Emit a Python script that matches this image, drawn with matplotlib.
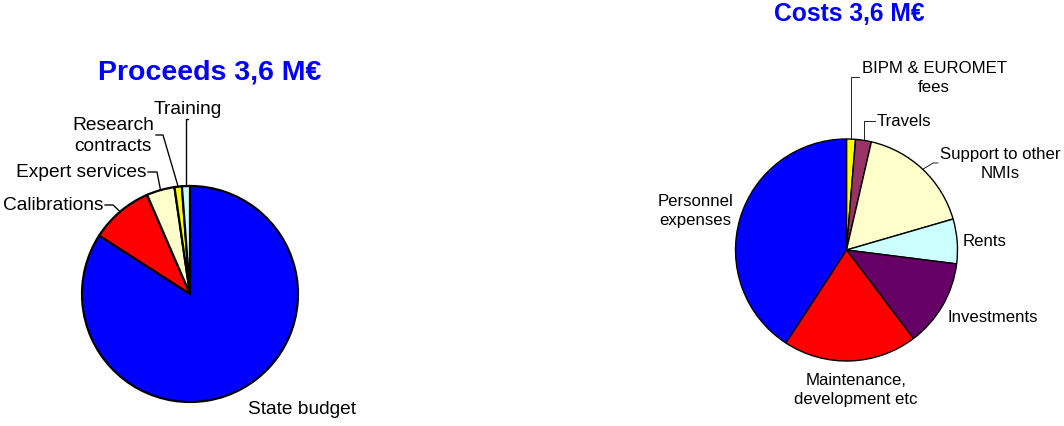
import numpy as np
import matplotlib
matplotlib.use('Agg')
import matplotlib.pyplot as plt

plt.rcParams['font.family'] = ['Liberation Sans', 'DejaVu Sans']

W, H = 1064, 427

# proceeds (share of total, %)
proceeds_labels = ['State budget', 'Calibrations', 'Expert services',
                   'Research\ncontracts', 'Training']
proceeds_values = [84.1, 9.4, 4.2, 1.1, 1.2]
proceeds_colors = ['#0000FF', '#FF0000', '#FFFFCC', '#FFFF00', '#CCFFFF']

# costs (share of total, %)
costs_labels = ['BIPM & EUROMET\nfees', 'Travels', 'Support to other\nNMIs', 'Rents',
                'Investments', 'Maintenance,\ndevelopment etc', 'Personnel\nexpenses']
costs_values = [1.3, 2.3, 16.9, 6.5, 12.7, 19.5, 40.8]
costs_colors = ['#FFFF00', '#993366', '#FFFFCC', '#CCFFFF', '#660066', '#FF0000', '#0000FF']


def py(y):
    # image rows run downwards, axes y runs upwards
    return H - y


def edge_point(w, cx, cy, r):
    a = np.radians((w.theta1 + w.theta2) / 2)
    return cx + r * np.cos(a), cy + r * np.sin(a)


def draw_pie(ax, values, colors, labels, center, radius, lw, fs, placements):
    wedges, _ = ax.pie(values, colors=colors, startangle=90, counterclock=False,
                       center=center, radius=radius,
                       wedgeprops=dict(edgecolor='black', linewidth=lw))
    for w, lab, pl in zip(wedges, labels, placements):
        (tx, ty), ha, leader = pl
        ax.text(tx, py(ty), lab, ha=ha, va='center', fontsize=fs,
                multialignment='center', linespacing=1.35)
        if leader is not None:
            ex, ey = edge_point(w, center[0], center[1], radius)
            (sx, sy), (bx, by) = leader
            if bx is None:
                bx = ex
            ax.plot([sx, bx, ex], [py(sy), py(by), ey], color='black', lw=lw * 0.6)


fig = plt.figure(figsize=(W / 100, H / 100), dpi=100)
ax = fig.add_axes([0, 0, 1, 1])

left_place = [
    ((248, 410), 'left', None),
    ((103, 206), 'right', ((105, 206), (113, 206))),
    ((146, 173), 'right', ((148, 173), (157, 173))),
    ((113, 136), 'center', ((156, 136), (163, 136))),
    ((188, 110), 'center', ((188, 120), (None, 120))),
]
draw_pie(ax, proceeds_values, proceeds_colors, proceeds_labels,
         (190, py(295)), 108, 1.6, 13.8, left_place)

right_place = [
    ((934, 78), 'center', ((859, 78), (None, 78))),
    ((877, 122), 'left', ((875, 122), (None, 122))),
    ((1000, 164), 'center', ((938, 164), (933, 164))),
    ((985, 242), 'center', None),
    ((993, 318), 'center', None),
    ((856, 390), 'center', None),
    ((695, 211), 'center', None),
]
draw_pie(ax, costs_values, costs_colors, costs_labels,
         (846.5, py(251)), 111, 1.0, 12.1, right_place)

ax.text(210, py(72), 'Proceeds 3,6 M€', ha='center', va='center',
        fontsize=20.5, fontweight='bold', color='#0000FF')
ax.text(849, py(14), 'Costs 3,6 M€', ha='center', va='center',
        fontsize=17.7, fontweight='bold', color='#0000FF')

# pie() resets the limits, so set the pixel frame afterwards
ax.set_xlim(0, W)
ax.set_ylim(0, H)
ax.set_aspect('equal')
ax.axis('off')

fig.savefig('out.png', dpi=100, facecolor='white')
